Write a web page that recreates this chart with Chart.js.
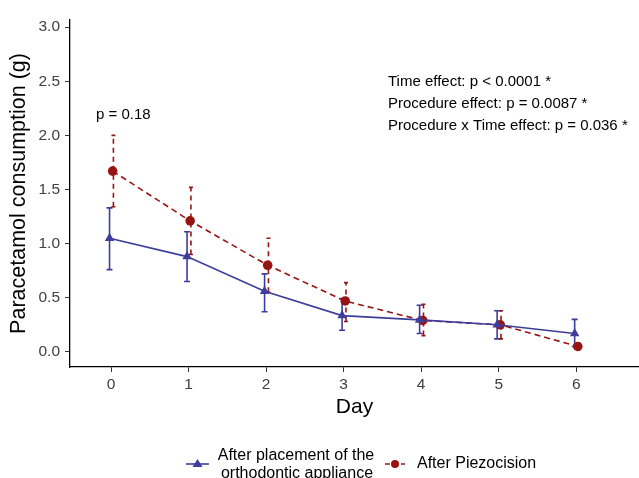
<!DOCTYPE html>
<html>
<head>
<meta charset="utf-8">
<script src="https://cdn.jsdelivr.net/npm/chart.js@4"></script>
<style>
  html, body { margin: 0; padding: 0; background: #fff; }
  #wrap { width: 639px; height: 478px; }
</style>
</head>
<body>
<div id="wrap"><canvas id="myChart" width="639" height="478"></canvas></div>
<script>
// данные
const days = [0, 1, 2, 3, 4, 5, 6]
const yTicks = [0, 0.5, 1, 1.5, 2, 2.5, 3]

const applianceMean = [1.05, 0.88, 0.56, 0.335, 0.295, 0.25, 0.17]
const applianceLow  = [0.76, 0.65, 0.37, 0.20, 0.17, 0.12, 0.05]
const applianceHigh = [1.33, 1.11, 0.72, 0.49, 0.43, 0.38, 0.30]

const piezoMean = [1.67, 1.21, 0.80, 0.47, 0.29, 0.25, 0.05]
const piezoLow  = [1.34, 0.90, 0.55, 0.28, 0.15, 0.12, 0.02]
const piezoHigh = [2.00, 1.52, 1.05, 0.64, 0.44, 0.38, 0.08]

const labelAppliance = ['After placement of the', 'orthodontic appliance']
const labelPiezo = 'After Piezocision'
const statLines = [
    'Time effect: p < 0.0001 *',
    'Procedure effect: p = 0.0087 *',
    'Procedure x Time effect: p = 0.036 *'
]
const day0Note = 'p = 0.18'

const blue = '#3d3d9c'
const red = '#971414'
const FONT = '"Liberation Sans", Arial, sans-serif'

const canvas = document.getElementById('myChart')
const ctx = canvas.getContext('2d')

// небольшое смещение групп, как position_dodge
function points(means, shift) {
    return days.map((d, i) => ({ x: d + shift, y: means[i] }))
}

// плагин: планки погрешностей, подписи и легенда
const extras = {
    id: 'extras',
    beforeDatasetsDraw(chart) {
        const c = chart.ctx
        const xs = chart.scales.x
        const ys = chart.scales.y
        const bars = [
            { low: applianceLow, high: applianceHigh, shift: -0.02, color: blue, dash: [], cap: 3 },
            { low: piezoLow, high: piezoHigh, shift: 0.03, color: red, dash: [5, 4], cap: 2 }
        ]
        c.save()
        c.lineWidth = 1.6
        bars.forEach(b => {
            c.strokeStyle = b.color
            days.forEach((d, i) => {
                const px = xs.getPixelForValue(d + b.shift)
                const y1 = ys.getPixelForValue(b.low[i])
                const y2 = ys.getPixelForValue(b.high[i])
                c.setLineDash(b.dash)
                c.beginPath()
                c.moveTo(px, y1)
                c.lineTo(px, y2)
                c.stroke()
                c.setLineDash([])
                c.beginPath()
                c.moveTo(px - b.cap, y1); c.lineTo(px + b.cap, y1)
                c.moveTo(px - b.cap, y2); c.lineTo(px + b.cap, y2)
                c.stroke()
            })
        })
        c.restore()
    },
    afterDraw(chart) {
        const c = chart.ctx
        const ys = chart.scales.y
        c.save()
        c.fillStyle = '#000'
        c.font = '15px ' + FONT
        c.textBaseline = 'middle'
        c.textAlign = 'left'
        c.fillText(day0Note, 96, ys.getPixelForValue(2.19))
        statLines.forEach((t, i) => {
            c.fillText(t, 388, ys.getPixelForValue(2.49 - i * 0.203))
        })

        // легенда внизу
        const ly = 464
        c.lineWidth = 1.6
        c.strokeStyle = blue
        c.beginPath(); c.moveTo(186, ly); c.lineTo(209, ly); c.stroke()
        c.fillStyle = blue
        c.beginPath()
        c.moveTo(197.5, ly - 5); c.lineTo(202.5, ly + 3); c.lineTo(192.5, ly + 3)
        c.closePath(); c.fill()

        c.strokeStyle = red
        c.setLineDash([5, 3])
        c.beginPath(); c.moveTo(385, ly); c.lineTo(405, ly); c.stroke()
        c.setLineDash([])
        c.fillStyle = red
        c.beginPath(); c.arc(395, ly, 4, 0, Math.PI * 2); c.fill()

        c.fillStyle = '#000'
        c.font = '16px ' + FONT
        c.textAlign = 'center'
        c.fillText(labelAppliance[0], 296, 456)
        c.fillText(labelAppliance[1], 297, 474)
        c.textAlign = 'left'
        c.fillText(labelPiezo, 417, ly)
        c.restore()
    }
}

const myChart = new Chart(ctx, {
    type: 'line',
    data: {
        datasets: [{
            label: labelAppliance.join(' '),
            data: points(applianceMean, -0.02),
            borderColor: blue,
            backgroundColor: blue,
            borderWidth: 1.6,
            pointStyle: 'triangle',
            pointRadius: 5.5,
            pointBorderWidth: 0,
            tension: 0
        }, {
            label: labelPiezo,
            data: points(piezoMean, 0.02),
            borderColor: red,
            backgroundColor: red,
            borderWidth: 1.6,
            borderDash: [6, 4],
            pointStyle: 'circle',
            pointRadius: 4.8,
            pointBorderWidth: 0,
            tension: 0
        }]
    },
    options: {
        responsive: false,
        animation: false,
        layout: { autoPadding: false, padding: { top: 20, right: 0, bottom: 58, left: 0 } },
        plugins: { legend: { display: false }, tooltip: { enabled: false } },
        scales: {
            x: {
                type: 'linear',
                min: -0.53,
                max: 6.81,
                afterBuildTicks: s => { s.ticks = days.map(v => ({ value: v })) },
                afterFit: s => { s.height = 53 },
                grid: { drawOnChartArea: false, drawTicks: true, tickLength: 5, color: '#333', lineWidth: 1 },
                border: { display: true, color: '#000', width: 1.3 },
                ticks: { color: '#404040', font: { family: FONT, size: 15.5 }, padding: 3, maxRotation: 0 },
                title: { display: true, text: 'Day', color: '#000', font: { family: FONT, size: 21 }, padding: { top: 4, bottom: 0 } }
            },
            y: {
                min: -0.14,
                max: 3.066,
                afterBuildTicks: s => { s.ticks = yTicks.map(v => ({ value: v })) },
                afterFit: s => { s.width = 70 },
                grid: { drawOnChartArea: false, drawTicks: true, tickLength: 5, color: '#333', lineWidth: 1 },
                border: { display: true, color: '#000', width: 1.3 },
                ticks: { color: '#404040', font: { family: FONT, size: 15.5 }, padding: 5, callback: v => v.toFixed(1) },
                title: { display: true, text: 'Paracetamol consumption (g)', color: '#000', font: { family: FONT, size: 21.5 }, padding: { top: 6, bottom: 4 } }
            }
        }
    },
    plugins: [extras]
})
</script>
</body>
</html>
